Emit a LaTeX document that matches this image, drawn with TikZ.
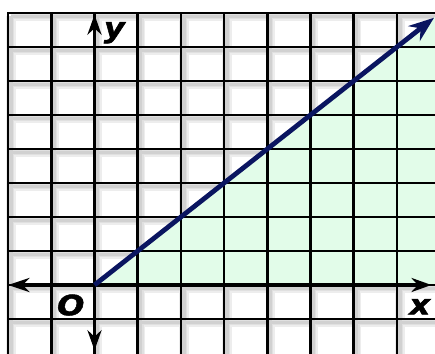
\documentclass[tikz,border=0pt]{standalone}
\usepackage{fontspec}
\setmainfont{DejaVu Sans}
\newfontfamily\labfont{DejaVu Sans}[BoldItalicFeatures={FakeBold=1.6}]
\usetikzlibrary{arrows.meta,calc}
\definecolor{mint}{HTML}{E2FCE9}
\definecolor{navy}{HTML}{0A1560}
\begin{document}
\begin{tikzpicture}[x=32.4pt,y=25.5pt,
 gridline/.style={black,line width=2pt,line cap=rect},
 shadowA/.style={black!7,line width=7pt},
 shadowB/.style={black!12,line width=4.5pt},
 shadowC/.style={black!18,line width=2.5pt},
 axisline/.style={black,line width=2.8pt},
 lab/.style={font=\labfont\bfseries\itshape\fontsize{21}{21}\selectfont,inner sep=0pt,xscale=1.15}]
\useasboundingbox (-2.1875,-2.029) rectangle (7.882,8.382);
\clip (-2.1875,-2.029) rectangle (7.882,8.382);
% soft shadows of the grid
\begin{scope}[shift={(2.2pt,-2.4pt)}]
  \foreach \s in {shadowA,shadowB,shadowC} {
    \foreach \i in {-2,...,7} \draw[\s] (\i,8) -- (\i,-2.2);
    \foreach \j in {-1,...,8} \draw[\s] (-2,\j) -- (8.2,\j);
  }
\end{scope}
% shaded region
\fill[mint] (0,0) -- (8.3,0) -- (8.3,8.3) -- cycle;
% grid
\foreach \i in {-2,...,7} \draw[gridline] (\i,8) -- (\i,-2.2);
\foreach \j in {-1,...,8} \draw[gridline] (-2,\j) -- (8.2,\j);
% axes
\coordinate (O) at (0,0);
\coordinate (xl) at (-2.0,0);
\coordinate (xr) at (7.80,0);
\coordinate (yt) at (0,7.95);
\coordinate (yb) at (0,-1.92);
\coordinate (P) at (7.86,7.86);
\draw[axisline,{Stealth[length=16pt,width=10.5pt]}-{Stealth[length=15pt,width=10.5pt]}] (xl) -- (xr);
\draw[axisline,{Stealth[length=15pt,width=10.5pt]}-{Stealth[length=15pt,width=10.5pt]}] (yb) -- (yt);
% boundary line
\draw[navy,line width=3.6pt,-{Stealth[length=19pt,width=14pt]}] (O) -- (P);
% labels
\node[lab] (ly) at (0.46,7.42) {y};
\node[lab] (lo) at (-0.55,-0.59) {O};
\node[lab] (lx) at (7.53,-0.64) {x};
\end{tikzpicture}
\end{document}
